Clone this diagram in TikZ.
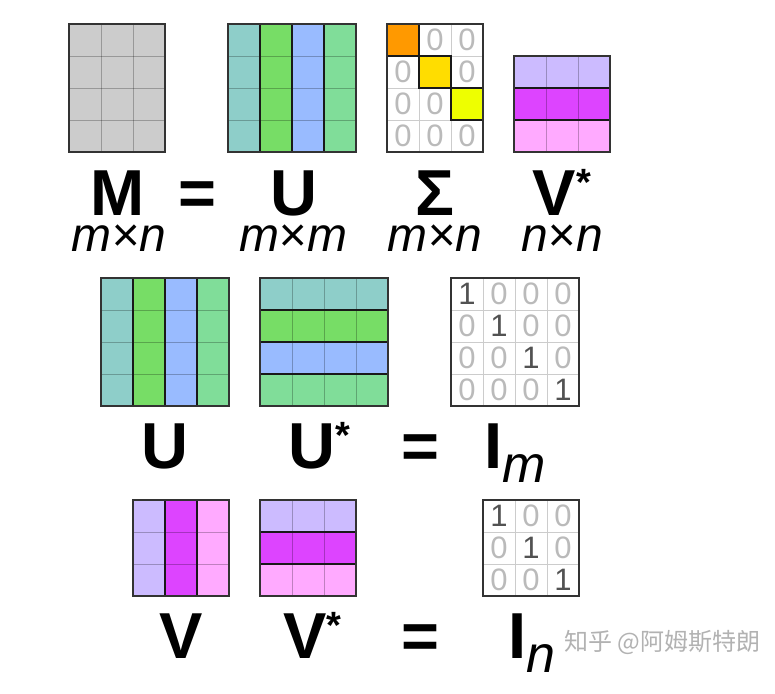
\documentclass[tikz,border=0pt]{standalone}
\usepackage{fontspec}
\setmainfont{Liberation Sans}
\newfontfamily\cjk{Noto Sans CJK SC}
\usetikzlibrary{calc}

\definecolor{mgray}{HTML}{CCCCCC}
\definecolor{uteal}{HTML}{8ECEC9}
\definecolor{ugreen}{HTML}{77DD66}
\definecolor{ublue}{HTML}{99BBFF}
\definecolor{umint}{HTML}{80DD99}
\definecolor{sorange}{HTML}{FF9900}
\definecolor{sgold}{HTML}{FFDD00}
\definecolor{syellow}{HTML}{EEFF00}
\definecolor{vlav}{HTML}{CCBBFF}
\definecolor{vmag}{HTML}{DD44FF}
\definecolor{vpink}{HTML}{FFAAFF}

\tikzset{
  cellline/.style={black, opacity=0.25, line width=0.9pt},
  thinline/.style={black!20, line width=0.9pt},
  sepline/.style={black!90, line width=1.6pt},
  border/.style={black!80, line width=1.8pt},
  letter/.style={font=\fontsize{65}{65}\selectfont\bfseries, inner sep=0pt, anchor=base},
  dims/.style={font=\fontsize{48}{48}\selectfont\itshape, inner sep=0pt, anchor=base},
  zero/.style={font=\fontsize{31}{31}\selectfont, text=black!27, inner sep=0pt},
  one/.style={zero, text=black!68},
}

% plain cells: top left x, y, cols, rows, fill, line style
\newcommand\cells[6]{%
  \begin{scope}[shift={(#1,#2)}]
    \fill[#5] (0,0) rectangle (32*#3,32*#4);
    \foreach \k in {1,...,#3} \draw[#6] (32*\k,0) -- (32*\k,32*#4);
    \foreach \k in {1,...,#4} \draw[#6] (0,32*\k) -- (32*#3,32*\k);
  \end{scope}}
% one colour per column
\newcommand\colstripes[5]{%
  \begin{scope}[shift={(#1,#2)}]
    \foreach \col [count=\i from 0] in {#5}
      \fill[\col] (32*\i,0) rectangle ++(32,32*#4);
    \foreach \k in {1,...,#4} \draw[cellline] (0,32*\k) -- (32*#3,32*\k);
    \foreach \k in {1,...,#3} \draw[sepline] (32*\k,0) -- (32*\k,32*#4);
  \end{scope}}
% one colour per row
\newcommand\rowstripes[5]{%
  \begin{scope}[shift={(#1,#2)}]
    \foreach \col [count=\i from 0] in {#5}
      \fill[\col] (0,32*\i) rectangle ++(32*#3,32);
    \foreach \k in {1,...,#3} \draw[cellline] (32*\k,0) -- (32*\k,32*#4);
    \foreach \k in {1,...,#4} \draw[sepline] (0,32*\k) -- (32*#3,32*\k);
  \end{scope}}

\begin{document}
\begin{tikzpicture}[x=1pt, y=-1pt]
  \useasboundingbox (0,0) rectangle (775,693);

  % M = U Sigma V*
  \cells{69}{24}{3}{4}{mgray}{cellline}
  \draw[border] (69,24) rectangle ++(96,128);
  \colstripes{228}{24}{4}{4}{uteal,ugreen,ublue,umint}
  \draw[border] (228,24) rectangle ++(128,128);
  \cells{387}{24}{3}{4}{white}{thinline}
  \foreach \col [count=\d from 0] in {sorange,sgold,syellow}
    \draw[sepline, fill=\col] (387+32*\d,24+32*\d) rectangle ++(32,32);
  \foreach \r/\c in {1/2,1/3,2/1,2/3,3/1,3/2,4/1,4/2,4/3}
    \node[zero] (s\r\c) at (371+32*\c,8+32*\r) {0};
  \draw[border] (387,24) rectangle ++(96,128);
  \rowstripes{514}{56}{3}{3}{vlav,vmag,vpink}
  \draw[border] (514,56) rectangle ++(96,96);

  \node[letter] (m) at (117.5,215) {M};
  \node[letter] (eq1) at (197,215) {=};
  \node[letter] (u) at (293.5,215) {U};
  \node[letter] (sigma) at (435,215) {Σ};
  \node[letter] (vstar) at (554.5,215) {V\rlap{\raisebox{20pt}{\fontsize{38}{38}\selectfont *}}};
  \node[dims] (mdim) at (118.5,251) {m×n};
  \node[dims] (udim) at (293,251) {m×m};
  \node[dims] (sdim) at (435,251) {m×n};
  \node[dims] (vdim) at (562,251) {n×n};

  % U U* = I_m
  \colstripes{101}{278}{4}{4}{uteal,ugreen,ublue,umint}
  \draw[border] (101,278) rectangle ++(128,128);
  \rowstripes{260}{278}{4}{4}{uteal,ugreen,ublue,umint}
  \draw[border] (260,278) rectangle ++(128,128);
  \cells{451}{278}{4}{4}{white}{thinline}
  \foreach \r in {1,...,4}
    \foreach \c in {1,...,4} {
      \ifnum\r=\c
        \node[one] (im\r\c) at (435+32*\c,262+32*\r) {1};
      \else
        \node[zero] (im\r\c) at (435+32*\c,262+32*\r) {0};
      \fi
    }
  \draw[border] (451,278) rectangle ++(128,128);

  \node[letter] (u2) at (165,468) {U};
  \node[letter] (ustar) at (312,468) {U\rlap{\raisebox{20pt}{\fontsize{38}{38}\selectfont *}}};
  \node[letter] (eq2) at (420,468) {=};
  \node[letter] (idm) at (493.5,468) {I\rlap{\raisebox{-14pt}{\fontsize{52}{52}\selectfont\mdseries\itshape m}}};

  % V V* = I_n
  \colstripes{133}{500}{3}{3}{vlav,vmag,vpink}
  \draw[border] (133,500) rectangle ++(96,96);
  \rowstripes{260}{500}{3}{3}{vlav,vmag,vpink}
  \draw[border] (260,500) rectangle ++(96,96);
  \cells{483}{500}{3}{3}{white}{thinline}
  \foreach \r in {1,...,3}
    \foreach \c in {1,...,3} {
      \ifnum\r=\c
        \node[one] (in\r\c) at (467+32*\c,484+32*\r) {1};
      \else
        \node[zero] (in\r\c) at (467+32*\c,484+32*\r) {0};
      \fi
    }
  \draw[border] (483,500) rectangle ++(96,96);

  \node[letter] (v) at (181,658) {V};
  \node[letter] (vstar2) at (305,658) {V\rlap{\raisebox{20pt}{\fontsize{38}{38}\selectfont *}}};
  \node[letter] (eq3) at (420,658) {=};
  \node[letter] (idn) at (517.5,658) {I\rlap{\raisebox{-14pt}{\fontsize{52}{52}\selectfont\mdseries\itshape n}}};

  \node[anchor=west, inner sep=0pt, text=black!30, font=\cjk\fontsize{24}{24}\selectfont] (mark) at (564,642) {知乎 @阿姆斯特朗};
\end{tikzpicture}
\end{document}
